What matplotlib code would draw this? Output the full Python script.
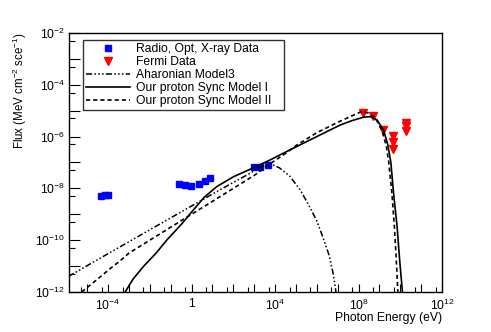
import numpy as np
import matplotlib
matplotlib.use('Agg')
import matplotlib.pyplot as plt
from matplotlib.ticker import LogLocator, FuncFormatter, NullFormatter

plt.rcParams['font.family'] = ['Liberation Sans', 'DejaVu Sans']
plt.rcParams['mathtext.default'] = 'regular'

# measured data (log10 of energy in eV, log10 of flux)
radio_logx = [-4.35, -4.15, -4.0]
radio_logy = [-8.29, -8.26, -8.25]
opt_logx = [-0.6, -0.31, -0.02, 0.36, 0.65, 0.89]
opt_logy = [-7.83, -7.87, -7.91, -7.83, -7.71, -7.6]
xray_logx = [2.97, 3.29, 3.64]
xray_logy = [-7.19, -7.16, -7.10]
fermi_logx = [8.21, 8.70, 9.17, 9.65, 9.65, 9.65, 10.26, 10.26, 10.26]
fermi_logy = [-5.08, -5.22, -5.76, -5.97, -6.20, -6.49, -5.46, -5.61, -5.77]

# model curves
ahar_logx = [-5.9, -4.0, -2.0, 0.0, 1.0, 2.0, 2.8, 3.3, 3.75, 4.2, 4.7, 5.2, 5.6, 6.0, 6.3, 6.6, 6.8, 6.92]
ahar_logy = [-11.40, -10.52, -9.60, -8.68, -8.22, -7.77, -7.42, -7.18, -7.04, -7.2, -7.52, -8.05, -8.62, -9.25, -9.9, -10.6, -11.35, -12.0]

m1_logx = [-3.18, -2.8, -2.31, -1.7, -1.18, -0.5, 0.09, 0.6, 1.21, 2.01, 2.81, 3.77, 4.5, 5.5, 6.5, 7.13, 7.7,
           8.25, 8.57, 8.89, 9.2, 9.4, 9.55, 9.68, 9.85, 9.97, 10.09, 10.12]
m1_logy = [-12.0, -11.5, -11.02, -10.5, -9.99, -9.4, -8.83, -8.35, -7.93, -7.55, -7.26, -6.90, -6.6, -6.2, -5.8,
           -5.55, -5.38, -5.25, -5.23, -5.36, -5.75, -6.3, -7.0, -8.19, -9.48, -10.76, -11.86, -12.2]

m2_logx = [-5.26, -4.5, -3.9, -3.4, -3.0, -2.5, -2.0, -1.0, 0.0, 1.0, 2.0, 3.0, 3.8, 4.5, 5.0, 6.0, 7.0, 7.6,
           8.1, 8.45, 8.8, 9.1, 9.33, 9.45, 9.6, 9.72, 9.81, 9.88, 9.9]
m2_logy = [-12.0, -11.5, -11.1, -10.78, -10.5, -10.25, -10.0, -9.5, -9.0, -8.5, -8.0, -7.5, -7.03, -6.65, -6.35,
           -5.85, -5.45, -5.23, -5.05, -5.08, -5.28, -5.7, -6.35, -7.0, -8.19, -9.48, -10.76, -11.9, -12.2]

def p(a):
    return 10.0 ** np.array(a)

fs = 8.7
fig = plt.figure(figsize=(4.91, 3.32), dpi=100)
ax = fig.add_axes([69/491, 1-292/332, 373/491, 259/332])

ax.plot(p(radio_logx), p(radio_logy), 's', color='#0000ff', ms=5, label='Radio, Opt, X-ray Data')
ax.plot(p(opt_logx), p(opt_logy), 's', color='#0000ff', ms=5)
ax.plot(p(xray_logx), p(xray_logy), 's', color='#0000ff', ms=5)
ax.plot(p(fermi_logx), p(fermi_logy), 'v', color='#ff0000', ms=6, label='Fermi Data')
ax.plot(p(ahar_logx), p(ahar_logy), color='black', lw=1.1, dashes=(4, 1.5, 1, 1.5, 1, 1.5, 1, 1.5),
        label='Aharonian Model3')
ax.plot(p(m1_logx), p(m1_logy), color='black', lw=1.2, label='Our proton Sync Model I')
ax.plot(p(m2_logx), p(m2_logy), color='black', lw=1.2, dashes=(2.5, 1.8), label='Our proton Sync Model II')

ax.set_xscale('log')
ax.set_yscale('log')
ax.set_xlim(10**-5.87, 1e12)
ax.set_ylim(1e-12, 1e-2)

ax.xaxis.set_major_locator(LogLocator(base=10, numticks=40))
ax.yaxis.set_major_locator(LogLocator(base=10, numticks=40))
ax.xaxis.set_minor_locator(LogLocator(base=10, subs=[5], numticks=40))
ax.yaxis.set_minor_locator(LogLocator(base=10, subs=[5], numticks=40))
ax.xaxis.set_minor_formatter(NullFormatter())
ax.yaxis.set_minor_formatter(NullFormatter())

def xfmt(v, pos):
    e = int(round(np.log10(v)))
    if e % 4 != 0:
        return ''
    if e == 0:
        return '1'
    return '$10^{%d}$' % e

def yfmt(v, pos):
    e = int(round(np.log10(v)))
    if e % 2 != 0:
        return ''
    return '$10^{%d}$' % e

ax.xaxis.set_major_formatter(FuncFormatter(xfmt))
ax.yaxis.set_major_formatter(FuncFormatter(yfmt))
ax.tick_params(which='both', direction='in', top=False, right=False, labelsize=fs, width=0.8)
ax.tick_params(axis='x', which='major', length=6, pad=4)
ax.tick_params(axis='x', which='minor', length=3.5)
ax.tick_params(axis='y', which='major', length=8, pad=3)
ax.tick_params(axis='y', which='minor', length=4.5)
for s in ax.spines.values():
    s.set_linewidth(1.0)

fig.text(20/491, 1-33/332, 'Flux (MeV cm$^{-2}$ sce$^{-1}$)', rotation=90, ha='center', va='top', fontsize=8.3)
fig.text(442/491, 1-318/332, 'Photon Energy (eV)', ha='right', va='center', fontsize=fs)

leg = ax.legend(loc='upper left', bbox_to_anchor=(14/373, 186/259, 201/373, 66/259), mode='expand',
                fontsize=fs, numpoints=1, handlelength=3.6, handletextpad=0.5, labelspacing=0.08,
                borderaxespad=0, borderpad=0.25, fancybox=False, frameon=True)
leg.get_frame().set_edgecolor('black')
leg.get_frame().set_linewidth(1.0)

fig.savefig('out.png', dpi=100)
